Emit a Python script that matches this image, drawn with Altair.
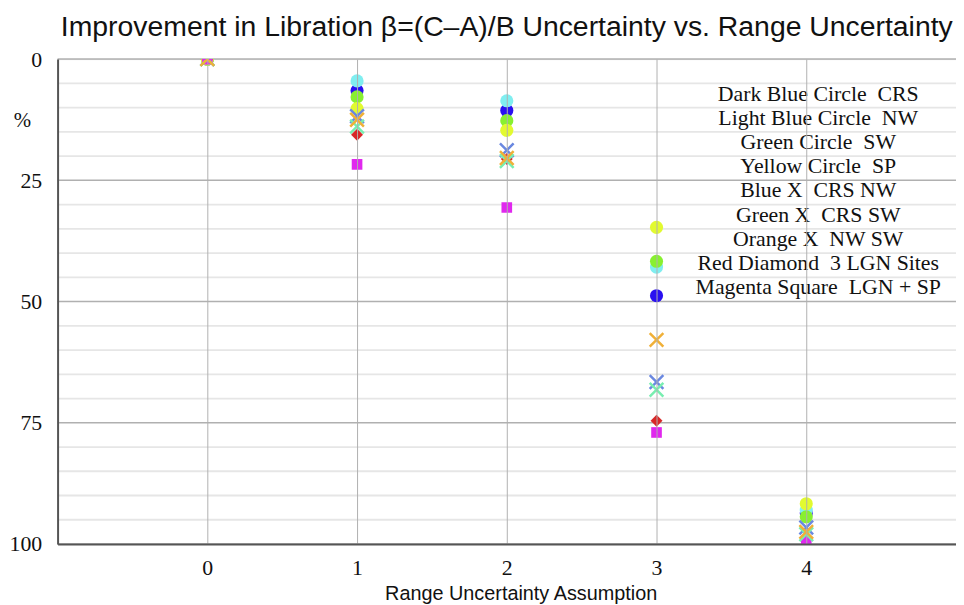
import altair as alt
import pandas as pd

x_vals = [0, 1, 2, 3, 4]
series = ["Dark Blue Circle", "Light Blue Circle", "Green Circle", "Yellow Circle",
          "Blue X", "Green X", "Orange X", "Red Diamond", "Magenta Square"]
colors = ["#2a10f0", "#80eef0", "#88f030", "#e2fa30",
          "#6a88e0", "#78eeb0", "#f0b038", "#d82828", "#e028ee"]
kinds = ["dot", "dot", "dot", "dot", "x", "x", "x", "dot", "dot"]
shapes = ["circle", "circle", "circle", "circle", "x", "x", "x", "diamond", "square"]
values = {
    "Dark Blue Circle":  [0, 6.5, 10.6, 48.8, 93.6],
    "Light Blue Circle": [0, 4.5, 8.6, 42.9, 93.0],
    "Green Circle":      [0, 7.8, 12.7, 41.7, 94.4],
    "Yellow Circle":     [0, 10.2, 14.7, 34.7, 91.7],
    "Blue X":            [0, 11.8, 18.8, 66.6, 96.6],
    "Green X":           [0, 13.9, 21.0, 68.2, 98.0],
    "Orange X":          [0, 12.5, 20.4, 57.9, 97.5],
    "Red Diamond":       [0, 15.6, 20.6, 74.6, 99.1],
    "Magenta Square":    [0, 21.7, 30.6, 77.0, 99.5],
}
legend_lines = ["Dark Blue Circle \u00a0CRS", "Light Blue Circle \u00a0NW", "Green Circle \u00a0SW",
                "Yellow Circle \u00a0SP", "Blue X \u00a0CRS NW", "Green X \u00a0CRS SW",
                "Orange X \u00a0NW SW", "Red Diamond \u00a03 LGN Sites", "Magenta Square \u00a0LGN + SP"]
legend_y = [7.2, 12.2, 17.1, 22.1, 27.1, 32.1, 37.1, 42.1, 47.1]
legend_x = 4.08
y_labels = [0, 25, 50, 75, 100]
y_minor = [v for v in range(5, 100, 5) if v % 25 != 0]

rows = []
for s, k, sh in zip(series, kinds, shapes):
    for xv, yv in zip(x_vals, values[s]):
        rows.append({"series": s, "kind": k, "shape": sh, "x": xv, "y": yv})
df = pd.DataFrame(rows)
leg = pd.DataFrame({"label": legend_lines, "y": legend_y, "x": [legend_x] * len(legend_lines)})

xscale = alt.Scale(domain=[-1, 5], nice=False, zero=False)
yscale = alt.Scale(domain=[0, 100], reverse=True, nice=False)
cscale = alt.Scale(domain=series, range=colors)

xaxis = alt.Axis(values=x_vals, format="d", title="Range Uncertainty Assumption", grid=True,
                 gridColor="#b0b0b0", gridWidth=1, ticks=False, labelPadding=14,
                 labelFont="Liberation Serif", labelFontSize=22, labelColor="#111",
                 titleFont="Liberation Sans", titleFontSize=20, titleFontWeight="normal",
                 titleColor="#111", titlePadding=5, titleX=467, titleAlign="center",
                 domainColor="#555", domainWidth=2, zindex=1)
yaxis = alt.Axis(values=y_labels, title="%", grid=False, labelOverlap=False,
                 ticks=False, labelPadding=16, labelFont="Liberation Serif", labelFontSize=22,
                 labelColor="#111", titleFont="Liberation Serif", titleFontSize=21,
                 titleFontWeight="normal", titleColor="#111", titleAngle=0,
                 titleX=-36, titleY=62, titleAlign="center", titleBaseline="middle",
                 domainColor="#555", domainWidth=2, zindex=1)

minor = alt.Chart(pd.DataFrame({"y": y_minor})).mark_rule(color="#e6e6e6", strokeWidth=1.8).encode(
    y=alt.Y("y:Q", scale=yscale, axis=yaxis))
major = alt.Chart(pd.DataFrame({"y": y_labels})).mark_rule(color="#b0b0b0", strokeWidth=1.5).encode(
    y=alt.Y("y:Q", scale=yscale))

base = alt.Chart(df)
dots = base.transform_filter(alt.datum.kind == "dot").mark_point(filled=True, opacity=1, clip=True).encode(
    x=alt.X("x:Q", scale=xscale, axis=xaxis),
    y=alt.Y("y:Q", scale=yscale),
    color=alt.Color("series:N", scale=cscale, legend=None),
    shape=alt.Shape("shape:N", scale=None),
    size=alt.Size("shape:N", scale=alt.Scale(domain=["circle", "diamond", "square"], range=[175, 115, 190]), legend=None),
)
xs = base.transform_filter(alt.datum.kind == "x").mark_point(
    shape="M-1,-1L1,1M-1,1L1,-1", filled=False, size=190, strokeWidth=2.5, opacity=1, clip=True
).encode(
    x=alt.X("x:Q", scale=xscale),
    y=alt.Y("y:Q", scale=yscale),
    color=alt.Color("series:N", scale=cscale, legend=None),
)
texts = alt.Chart(leg).mark_text(font="Liberation Serif", fontSize=22, align="center",
                                 baseline="middle", color="#111").encode(
    x=alt.X("x:Q", scale=xscale),
    y=alt.Y("y:Q", scale=yscale),
    text="label:N",
)

chart = alt.layer(minor, major, dots, xs, texts).properties(
    width=906, height=489,
    title=alt.TitleParams("Improvement in Libration β=(C–A)/B Uncertainty vs. Range Uncertainty",
                          font="Liberation Sans", fontSize=28.6, fontWeight="normal",
                          color="#111", anchor="middle", offset=7),
    autosize=alt.AutoSizeParams(type="none"),
    padding={"left": 50, "top": 49, "right": 0, "bottom": 60},
).configure_view(stroke="#666", strokeWidth=1.5).configure(background="white")

chart.save("out.html", embed_options={"renderer": "svg", "actions": False})
